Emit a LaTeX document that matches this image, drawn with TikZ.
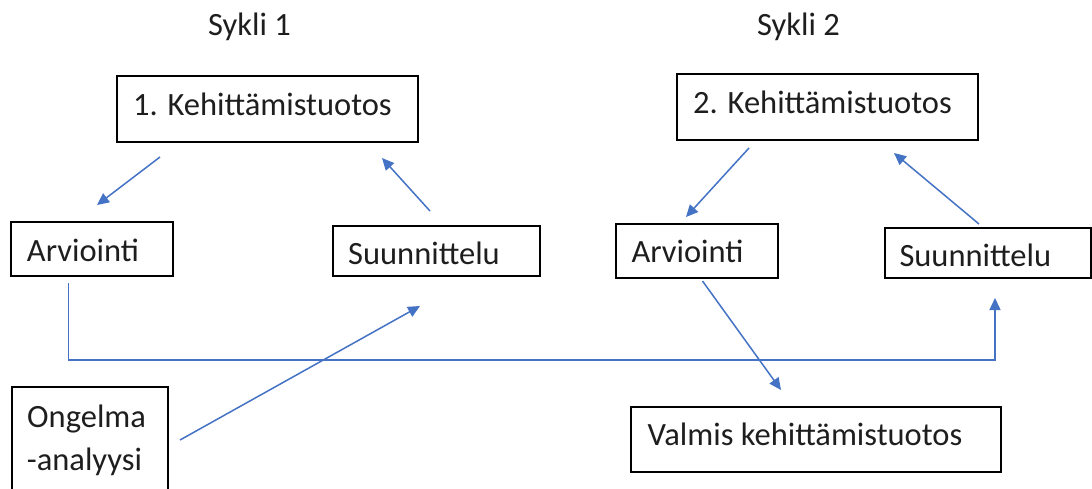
\documentclass[tikz,border=0pt]{standalone}
\usepackage{fontspec}
\setmainfont{Carlito}
\usetikzlibrary{arrows.meta}
\definecolor{arrowblue}{RGB}{68,114,196}
\definecolor{textgray}{RGB}{30,30,30}
\begin{document}
\begin{tikzpicture}[x=1pt,y=-1pt,
  box/.style={draw=black, line width=1.6pt, inner sep=0pt, rectangle},
  lbl/.style={anchor=base west, inner sep=0pt, font=\fontsize{32.5}{39}\selectfont, text=textgray},
  conn/.style={draw=arrowblue, line width=1.5pt, -{Triangle[length=12pt,width=11pt]}}]
\useasboundingbox (0,0) rectangle (1092,488);
\fill[white] (0,0) rectangle (1092,488);
\begin{scope}
\clip (0,0) rectangle (1092,488);
% titles
\node[lbl] (t1) at (208,35) {Sykli 1};
\node[lbl] (t2) at (757,35) {Sykli 2};
% boxes
\node[box, minimum width=301pt, minimum height=66pt] (k1) at (267.5,109) {};
\node[box, minimum width=301pt, minimum height=66pt] (k2) at (827.5,107) {};
\node[box, minimum width=162pt, minimum height=54pt] (a1) at (92,249) {};
\node[box, minimum width=207pt, minimum height=50pt] (s1) at (436.5,251) {};
\node[box, minimum width=162pt, minimum height=54pt] (a2) at (697,251) {};
\node[box, minimum width=206pt, minimum height=50pt] (s2) at (988,253) {};
\node[box, minimum width=370pt, minimum height=65pt] (v) at (816,439.5) {};
\node[box, minimum width=156pt, minimum height=133pt] (o) at (90,453.5) {};
% texts
\node[lbl] (k1t) at (133,115) {1. Kehittämistuotos};
\node[lbl] (k2t) at (693,113.3) {2. Kehittämistuotos};
\node[lbl] (a1t) at (26.8,261) {Arviointi};
\node[lbl] (s1t) at (348,264) {Suunnittelu};
\node[lbl] (a2t) at (631.3,262.3) {Arviointi};
\node[lbl] (s2t) at (899.3,266) {Suunnittelu};
\node[lbl] (vt) at (647.5,445.7) {Valmis kehittämistuotos};
\node[lbl] (ot1) at (27,427) {Ongelma};
\node[lbl] (ot2) at (26.7,470) {-analyysi};
% connector end points
\coordinate (k1a) at (160,157);  \coordinate (a1b) at (97,205);
\coordinate (s1a) at (430,211);  \coordinate (k1b) at (382,158);
\coordinate (k2a) at (749,148);  \coordinate (a2b) at (686,217);
\coordinate (s2a) at (979,224);  \coordinate (k2b) at (894,153);
\coordinate (a1a) at (68.6,283); \coordinate (s2b) at (995,298);
\coordinate (hl) at (0,360);
\coordinate (oa) at (180,440);   \coordinate (s1b) at (420,306);
\coordinate (a2a) at (702.5,281); \coordinate (vb) at (781,390);
% connectors
\draw[conn] (k1a) -- (a1b);
\draw[conn] (s1a) -- (k1b);
\draw[conn] (k2a) -- (a2b);
\draw[conn] (s2a) -- (k2b);
\draw[conn] (a1a) |- (s2b |- hl) -- (s2b);
\draw[conn] (oa) -- (s1b);
\draw[conn] (a2a) -- (vb);
\end{scope}
\end{tikzpicture}
\end{document}
